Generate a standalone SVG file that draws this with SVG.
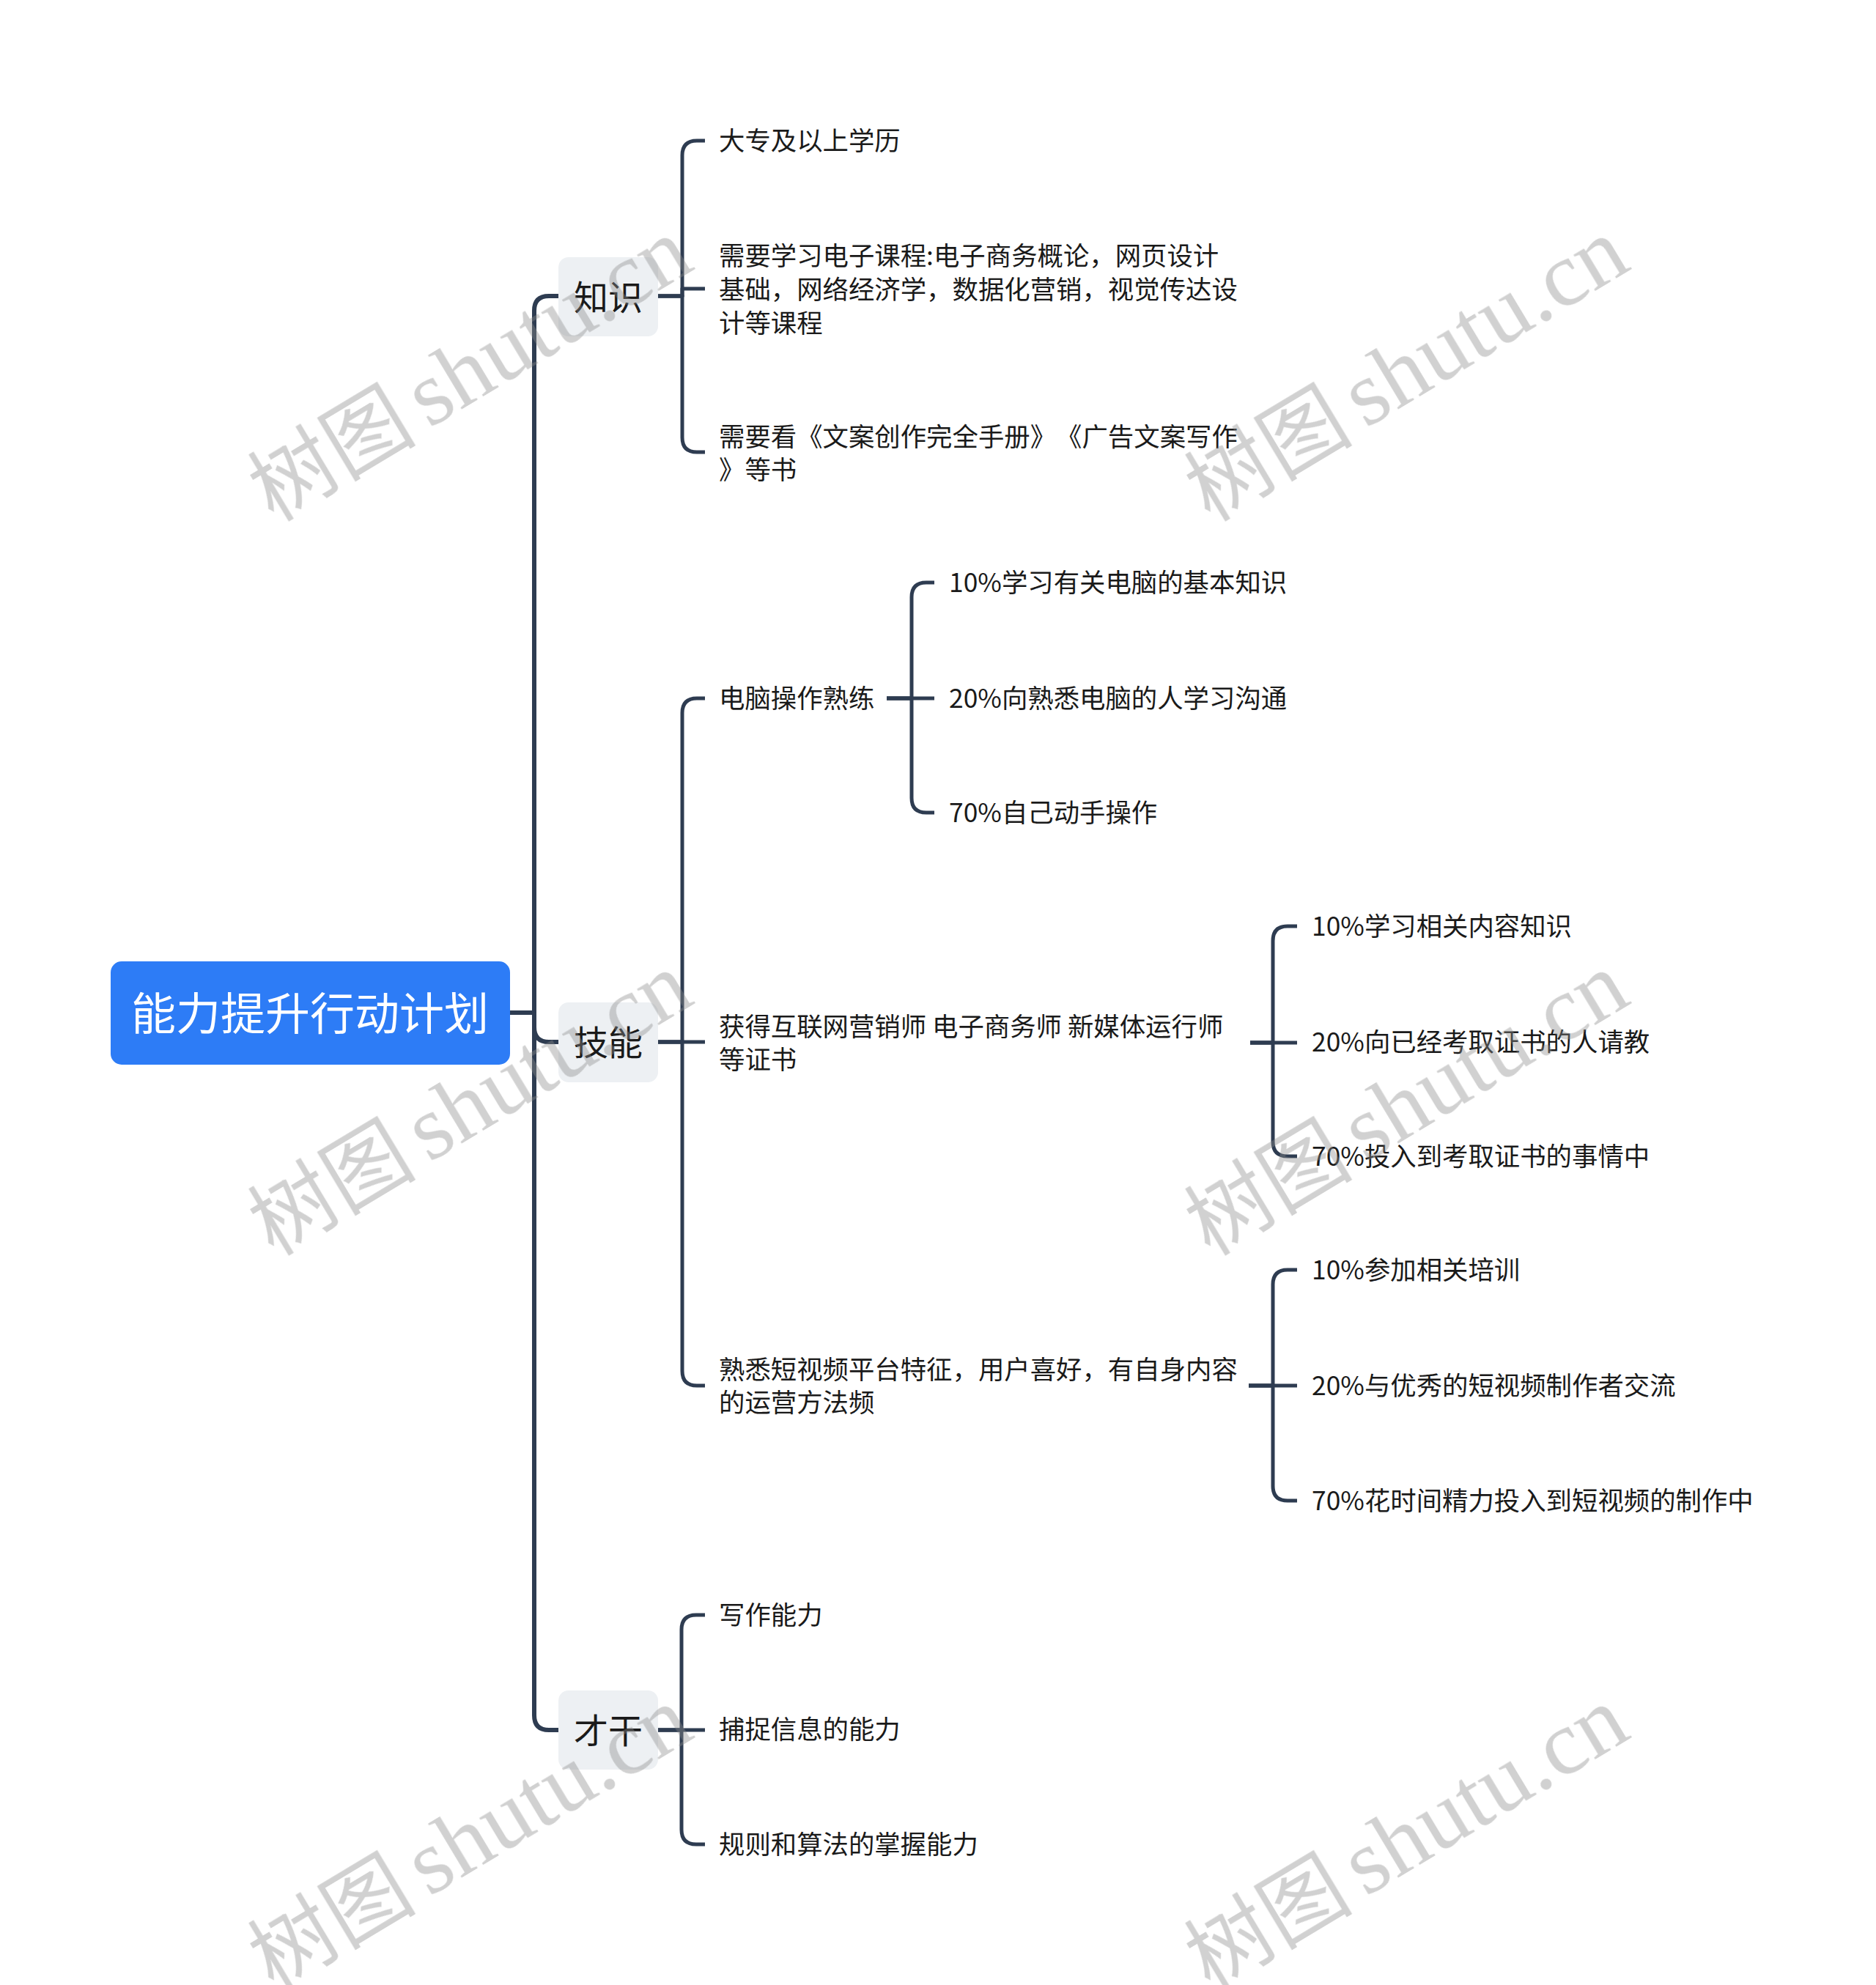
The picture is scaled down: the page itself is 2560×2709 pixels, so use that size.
<svg xmlns="http://www.w3.org/2000/svg" width="2560" height="2709" viewBox="0 0 2560 2709">
<style>
.ln{fill:none;stroke:#2E3C51;stroke-width:5;stroke-linecap:butt;stroke-linejoin:round}
.lt{fill:none;stroke:#2E3C51;stroke-width:6;stroke-linejoin:round}
text{text-spacing-trim:space-all}
.t2{font-family:"Noto Sans CJK SC","Noto Sans",sans-serif;font-size:35.4px;fill:#1A1A1A;dominant-baseline:central}
.t1{font-family:"Noto Sans CJK SC","Noto Sans",sans-serif;font-size:47px;fill:#1A1A1A;dominant-baseline:central;text-anchor:middle}
.t0{font-family:"Noto Sans CJK SC","Noto Sans",sans-serif;font-size:61px;fill:#FFFFFF;dominant-baseline:central;text-anchor:middle}
.b1{fill:#EDF0F3}
.wm{fill:#8C8C8C;opacity:0.4}
.wc{font-family:"Noto Sans CJK SC",sans-serif;font-size:115px}
.wl{font-family:"Liberation Serif",serif;font-size:125px}
</style>
<rect x="0" y="0" width="2560" height="2709" fill="#FFFFFF"/>
<g id="connectors">
<path class="lt" d="M696,1382 H729 V424 Q729,404 749,404 H762"/>
<path class="lt" d="M696,1382 H729 V1402 Q729,1422 749,1422 H762"/>
<path class="lt" d="M696,1382 H729 V2341 Q729,2361 749,2361 H762"/>
<path class="ln" d="M898,404 H931 V212 Q931,192 951,192 H962"/>
<path class="ln" d="M898,404 H931 V394 H962"/>
<path class="ln" d="M898,404 H931 V597 Q931,617 951,617 H962"/>
<path class="ln" d="M898,1422 H931 V973 Q931,953 951,953 H962"/>
<path class="ln" d="M898,1422 H962"/>
<path class="ln" d="M898,1422 H931 V1871 Q931,1891 951,1891 H962"/>
<path class="ln" d="M1210,953 H1244 V815 Q1244,795 1264,795 H1275"/>
<path class="ln" d="M1210,953 H1275"/>
<path class="ln" d="M1210,953 H1244 V1089 Q1244,1109 1264,1109 H1275"/>
<path class="ln" d="M1706,1423 H1737 V1284 Q1737,1264 1757,1264 H1770"/>
<path class="ln" d="M1706,1423 H1770"/>
<path class="ln" d="M1706,1423 H1737 V1558 Q1737,1578 1757,1578 H1770"/>
<path class="ln" d="M1704,1891 H1737 V1753 Q1737,1733 1757,1733 H1770"/>
<path class="ln" d="M1704,1891 H1770"/>
<path class="ln" d="M1704,1891 H1737 V2028 Q1737,2048 1757,2048 H1770"/>
<path class="ln" d="M898,2361 H930 V2224 Q930,2204 950,2204 H962"/>
<path class="ln" d="M898,2361 H962"/>
<path class="ln" d="M898,2361 H930 V2497 Q930,2517 950,2517 H962"/>
</g>
<g id="root">
<rect x="151" y="1312" width="545" height="141" rx="15" fill="#2D7CF6"/>
<text class="t0" x="423" y="1379">能力提升行动计划</text>
</g>
<g id="n-zhishi">
<rect class="b1" x="762" y="351" width="136" height="108" rx="14"/>
<text class="t1" x="830" y="402">知识</text>
</g>
<g id="n-jineng">
<rect class="b1" x="762" y="1368" width="136" height="109" rx="14"/>
<text class="t1" x="830" y="1419">技能</text>
</g>
<g id="n-caigan">
<rect class="b1" x="762" y="2307" width="136" height="108" rx="14"/>
<text class="t1" x="830" y="2358">才干</text>
</g>
<g id="n-k1"><text class="t2" x="981" y="189">大专及以上学历</text></g>
<g id="n-k2"><text class="t2" x="981" y="346">需要学习电子课程:电子商务概论，网页设计</text><text class="t2" x="981" y="392">基础，网络经济学，数据化营销，视觉传达设</text><text class="t2" x="981" y="438">计等课程</text></g>
<g id="n-k3"><text class="t2" x="981" y="593">需要看《文案创作完全手册》《广告文案写作</text><text class="t2" x="981" y="638">》等书</text></g>
<g id="n-s1"><text class="t2" x="981" y="950">电脑操作熟练</text></g>
<g id="n-s1a"><text class="t2" x="1295" y="792">10%学习有关电脑的基本知识</text></g>
<g id="n-s1b"><text class="t2" x="1295" y="950">20%向熟悉电脑的人学习沟通</text></g>
<g id="n-s1c"><text class="t2" x="1295" y="1106">70%自己动手操作</text></g>
<g id="n-s2"><text class="t2" x="981" y="1398">获得互联网营销师 电子商务师 新媒体运行师</text><text class="t2" x="981" y="1443">等证书</text></g>
<g id="n-s2a"><text class="t2" x="1790" y="1261">10%学习相关内容知识</text></g>
<g id="n-s2b"><text class="t2" x="1790" y="1419">20%向已经考取证书的人请教</text></g>
<g id="n-s2c"><text class="t2" x="1790" y="1575">70%投入到考取证书的事情中</text></g>
<g id="n-s3"><text class="t2" x="981" y="1866">熟悉短视频平台特征，用户喜好，有自身内容</text><text class="t2" x="981" y="1911">的运营方法频</text></g>
<g id="n-s3a"><text class="t2" x="1790" y="1730">10%参加相关培训</text></g>
<g id="n-s3b"><text class="t2" x="1790" y="1888">20%与优秀的短视频制作者交流</text></g>
<g id="n-s3c"><text class="t2" x="1790" y="2045">70%花时间精力投入到短视频的制作中</text></g>
<g id="n-c1"><text class="t2" x="981" y="2201">写作能力</text></g>
<g id="n-c2"><text class="t2" x="981" y="2357">捕捉信息的能力</text></g>
<g id="n-c3"><text class="t2" x="981" y="2514">规则和算法的掌握能力</text></g>
<g id="watermarks" class="wm">
<g transform="translate(373,713) rotate(-31)"><text class="wc" x="0" y="0">树图</text><text class="wl" x="248" y="0" textLength="426" lengthAdjust="spacingAndGlyphs">shutu.cn</text></g>
<g transform="translate(373,1715) rotate(-31)"><text class="wc" x="0" y="0">树图</text><text class="wl" x="248" y="0" textLength="426" lengthAdjust="spacingAndGlyphs">shutu.cn</text></g>
<g transform="translate(373,2717) rotate(-31)"><text class="wc" x="0" y="0">树图</text><text class="wl" x="248" y="0" textLength="426" lengthAdjust="spacingAndGlyphs">shutu.cn</text></g>
<g transform="translate(1651,713) rotate(-31)"><text class="wc" x="0" y="0">树图</text><text class="wl" x="248" y="0" textLength="426" lengthAdjust="spacingAndGlyphs">shutu.cn</text></g>
<g transform="translate(1651,1715) rotate(-31)"><text class="wc" x="0" y="0">树图</text><text class="wl" x="248" y="0" textLength="426" lengthAdjust="spacingAndGlyphs">shutu.cn</text></g>
<g transform="translate(1651,2717) rotate(-31)"><text class="wc" x="0" y="0">树图</text><text class="wl" x="248" y="0" textLength="426" lengthAdjust="spacingAndGlyphs">shutu.cn</text></g>
</g>
</svg>
